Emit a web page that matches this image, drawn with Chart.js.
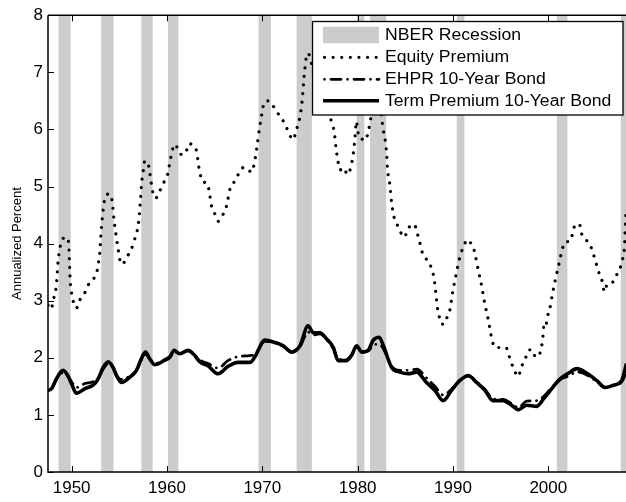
<!DOCTYPE html>
<html><head><meta charset="utf-8">
<script src="https://cdn.jsdelivr.net/npm/chart.js@4/dist/chart.umd.min.js"></script>
<style>html,body{margin:0;padding:0;background:#fff;overflow:hidden}</style>
</head><body>
<canvas id="c" width="626" height="502"></canvas>
<script>
// ---- data ----
const recessionStart = [1948.6, 1953.1, 1957.3, 1960.1, 1969.6, 1973.6, 1979.9, 1981.3, 1990.4, 2000.9, 2007.6];
const recessionEnd   = [1949.9, 1954.4, 1958.5, 1961.2, 1970.9, 1975.2, 1980.7, 1983.0, 1991.2, 2002.0, 2009.5];

const equityYears = [1947.52,1947.85,1948.06,1948.4,1948.58,1948.83,1949.1,1949.5,1949.7,1949.8,1949.87,1949.98,1950.15,1950.44,1950.68,1950.86,1951.38,1951.73,1952.08,1952.5,1952.71,1952.85,1952.96,1953.06,1953.2,1953.38,1953.55,1954.0,1954.25,1954.42,1954.63,1954.88,1955.19,1955.55,1955.93,1956.28,1956.56,1956.98,1957.15,1957.33,1957.54,1957.68,1958.1,1958.34,1958.7,1959.04,1959.32,1959.67,1960.06,1960.37,1960.54,1960.83,1961.14,1961.59,1962.05,1962.29,1962.64,1963.1,1963.34,1963.76,1964.22,1964.43,1964.68,1965.02,1965.37,1965.72,1966.14,1966.35,1966.7,1967.19,1967.47,1968.0,1968.28,1968.87,1969.12,1969.4,1969.74,1970.03,1970.2,1970.69,1971.14,1971.6,1972.08,1972.47,1972.82,1973.24,1973.52,1973.94,1974.18,1974.39,1974.57,1974.71,1974.99,1975.17,1975.6,1976.1,1976.6,1977.0,1977.27,1977.54,1977.72,1977.96,1978.14,1978.56,1978.91,1979.26,1979.54,1979.71,1979.86,1980.12,1980.4,1980.68,1981.03,1981.2,1981.35,1981.7,1982.1,1982.45,1982.68,1982.86,1983.04,1983.14,1983.39,1983.56,1983.84,1984.15,1984.51,1984.86,1985.24,1985.66,1986.08,1986.29,1986.53,1986.71,1987.06,1987.48,1987.76,1988.0,1988.21,1988.39,1988.56,1988.81,1989.09,1989.4,1989.69,1989.96,1990.29,1990.64,1990.85,1991.16,1991.5,1991.86,1992.14,1992.32,1992.66,1993.02,1993.3,1993.65,1993.96,1994.13,1994.41,1994.94,1995.57,1995.81,1996.06,1996.34,1996.86,1997.11,1997.39,1997.67,1998.02,1998.38,1998.62,1998.97,1999.22,1999.39,1999.57,1999.74,1999.91,2000.12,2000.43,2000.78,2001.13,2001.48,2001.76,2002.29,2002.57,2002.81,2003.27,2003.44,2003.86,2004.21,2004.57,2004.85,2005.1,2005.37,2005.62,2005.73,2005.97,2006.15,2006.57,2006.94,2007.19,2007.61,2007.82,2007.99,2008.1,2008.2];
const equityValues = [2.92,2.85,3.0,3.28,3.69,3.97,4.09,4.11,3.97,3.55,3.29,3.14,3.0,2.87,2.91,3.01,3.14,3.27,3.36,3.43,3.55,3.70,3.85,4.13,4.41,4.69,4.83,4.87,4.74,4.45,4.18,3.90,3.64,3.68,3.80,3.91,4.05,4.32,4.60,5.03,5.31,5.45,5.35,5.07,4.80,4.83,4.95,5.07,5.21,5.48,5.62,5.74,5.66,5.55,5.63,5.75,5.73,5.62,5.34,5.08,5.06,4.91,4.65,4.52,4.39,4.48,4.59,4.74,5.01,5.10,5.21,5.33,5.33,5.25,5.37,5.65,6.06,6.34,6.48,6.50,6.41,6.29,6.18,6.06,5.92,5.82,5.96,6.22,6.50,6.93,7.21,7.33,7.28,7.15,6.85,6.60,6.40,6.25,6.13,5.96,5.69,5.42,5.29,5.33,5.21,5.32,5.57,5.83,6.14,5.87,5.84,5.80,5.90,6.03,6.17,6.40,6.50,6.30,5.99,5.85,5.58,5.30,5.01,4.72,4.45,4.33,4.20,4.11,4.23,4.34,4.29,4.16,4.01,3.88,3.75,3.69,3.55,3.41,3.12,2.85,2.72,2.59,2.59,2.72,2.85,3.14,3.43,3.71,3.84,3.97,4.07,4.01,3.94,3.81,3.53,3.25,2.98,2.71,2.43,2.29,2.18,2.18,2.18,2.07,1.95,1.82,1.67,1.81,1.92,2.02,2.14,2.13,2.02,2.02,2.15,2.29,2.59,2.56,2.72,2.83,3.11,3.40,3.65,3.91,4.03,4.04,4.19,4.33,4.34,4.20,4.07,4.03,3.90,3.75,3.61,3.46,3.36,3.24,3.16,3.29,3.32,3.35,3.46,3.61,3.75,3.95,4.40,4.60];

const bondYears = [1947.5,1947.9,1948.4,1949.1,1949.6,1949.98,1950.5,1951.4,1952.25,1952.78,1953.3,1953.83,1954.35,1954.7,1955.2,1956.1,1956.8,1957.3,1957.75,1958.2,1958.7,1959.78,1960.3,1960.75,1961.35,1962.2,1962.75,1963.45,1964.3,1965.37,1966.4,1967.45,1968.7,1969.2,1970.27,1971.3,1972.2,1973.07,1973.95,1974.8,1975.35,1976.05,1976.75,1977.45,1977.95,1978.85,1979.36,1979.9,1980.42,1981.1,1981.64,1982.27,1982.7,1983.57,1984.44,1985.3,1986.2,1987.2,1988.1,1988.97,1989.85,1990.7,1991.6,1992.47,1993.35,1994.2,1995.27,1996.15,1996.85,1997.73,1998.78,1999.5,2000.36,2001.24,2002.11,2003.0,2004.04,2005.1,2005.96,2006.84,2007.7,2008.05,2008.2];
const termPremiumValues = [1.43,1.46,1.63,1.78,1.69,1.55,1.38,1.46,1.52,1.63,1.83,1.93,1.83,1.69,1.57,1.66,1.78,1.98,2.10,1.98,1.88,1.96,2.01,2.13,2.07,2.13,2.07,1.93,1.86,1.72,1.85,1.92,1.92,2.01,2.31,2.27,2.21,2.10,2.21,2.56,2.44,2.44,2.33,2.18,1.95,1.95,2.04,2.21,2.10,2.13,2.31,2.36,2.21,1.83,1.75,1.72,1.75,1.57,1.43,1.25,1.43,1.60,1.69,1.57,1.43,1.25,1.25,1.17,1.09,1.17,1.15,1.28,1.46,1.63,1.73,1.81,1.73,1.60,1.48,1.52,1.60,1.80,1.90];
const ehprValues = [1.43,1.46,1.62,1.74,1.68,1.58,1.48,1.55,1.58,1.64,1.80,1.90,1.82,1.70,1.62,1.68,1.78,1.96,2.06,1.98,1.90,1.97,2.02,2.11,2.07,2.12,2.08,1.96,1.90,1.82,1.95,2.02,2.04,2.06,2.29,2.26,2.20,2.12,2.20,2.45,2.40,2.42,2.32,2.16,1.98,1.97,2.05,2.18,2.10,2.12,2.22,2.24,2.16,1.85,1.78,1.78,1.80,1.65,1.50,1.35,1.45,1.60,1.68,1.58,1.45,1.28,1.27,1.20,1.13,1.24,1.25,1.32,1.48,1.62,1.68,1.75,1.70,1.58,1.48,1.52,1.58,1.70,1.80];

const xTickYears = [1950, 1960, 1970, 1980, 1990, 2000];
const yTickValues = [0, 1, 2, 3, 4, 5, 6, 7, 8];
const legendLabels = ['NBER Recession', 'Equity Premium', 'EHPR 10-Year Bond', 'Term Premium 10-Year Bond'];
const yTitle = 'Annualized Percent';

// ---- build library data ----
const xy = (xs, ys) => xs.map((x, i) => ({x: x, y: ys[i]}));
const recessionData = [];
recessionStart.forEach((s, i) => {
  const e = recessionEnd[i];
  recessionData.push({x: s, y: 0}, {x: s, y: 8}, {x: e, y: 8}, {x: e, y: 0});
});

const FONT = '"Liberation Sans", Arial, Helvetica, sans-serif';
const styles = {
  equity: {w: 3.2, dash: [0.01, 8.6]},
  ehpr: {w: 2.8, dash: [0.01, 6.5, 10, 6.5]},
  term: {w: 3.6, dash: []}
};

const framePlugin = {
  id: 'frame',
  afterDatasetsDraw(chart) {
    const {ctx, chartArea: a, scales} = chart;
    ctx.save();
    ctx.strokeStyle = '#000';
    ctx.lineWidth = 1.5;
    ctx.beginPath();
    ctx.moveTo(a.left, a.top); ctx.lineTo(a.right + 2, a.top);
    ctx.moveTo(a.left, a.top); ctx.lineTo(a.left, a.bottom);
    ctx.lineTo(a.right + 2, a.bottom);
    ctx.stroke();
    ctx.lineWidth = 1;
    ctx.beginPath();
    xTickYears.forEach(v => {
      const px = Math.round(scales.x.getPixelForValue(v)) + 0.5;
      ctx.moveTo(px, a.bottom); ctx.lineTo(px, a.bottom - 6);
      ctx.moveTo(px, a.top); ctx.lineTo(px, a.top + 6);
    });
    yTickValues.forEach(v => {
      const py = Math.round(scales.y.getPixelForValue(v)) + 0.5;
      ctx.moveTo(a.left, py); ctx.lineTo(a.left + 6, py);
    });
    ctx.stroke();

    // legend box
    const L = {x: 312.5, y: 21.5, w: 310.5, h: 93.5};
    ctx.fillStyle = '#fff';
    ctx.fillRect(L.x, L.y, L.w, L.h);
    ctx.strokeStyle = '#000';
    ctx.lineWidth = 1.3;
    ctx.strokeRect(L.x, L.y, L.w, L.h);
    const rows = [35, 57.3, 79.3, 100.7];
    const sx0 = 323, sx1 = 379, tx = 385;
    ctx.fillStyle = '#cccccc';
    ctx.fillRect(sx0, rows[0] - 8.3, sx1 - sx0, 16.6);
    const sty = [null, styles.equity, styles.ehpr, styles.term];
    for (let i = 1; i < 4; i++) {
      ctx.beginPath();
      ctx.setLineDash(sty[i].dash);
      ctx.lineCap = sty[i].dash.length ? 'round' : 'butt';
      ctx.lineWidth = sty[i].w;
      ctx.strokeStyle = '#000';
      ctx.moveTo(sx0 + (i < 3 ? 1.5 : 0), rows[i]);
      ctx.lineTo(sx1, rows[i]);
      ctx.stroke();
    }
    ctx.setLineDash([]);
    ctx.fillStyle = '#000';
    ctx.font = '16px ' + FONT;
    ctx.textBaseline = 'middle';
    ctx.textAlign = 'left';
    legendLabels.forEach((t, i) => {
      ctx.save();
      ctx.translate(tx, rows[i] + 0.5);
      ctx.scale(1.1, 1);
      ctx.fillText(t, 0, 0);
      ctx.restore();
    });
    ctx.restore();
  }
};

new Chart(document.getElementById('c'), {
  type: 'line',
  data: {
    datasets: [
      {label: legendLabels[0], data: recessionData, order: 10, fill: 'origin',
       backgroundColor: '#cccccc', borderColor: 'rgba(0,0,0,0)', borderWidth: 0,
       pointRadius: 0, tension: 0},
      {label: legendLabels[1], data: xy(equityYears, equityValues), order: 0,
       borderColor: '#000', borderWidth: styles.equity.w, borderDash: styles.equity.dash,
       borderCapStyle: 'round', pointRadius: 0, fill: false, cubicInterpolationMode: 'monotone'},
      {label: legendLabels[2], data: xy(bondYears, ehprValues), order: 1,
       borderColor: '#000', borderWidth: styles.ehpr.w, borderDash: styles.ehpr.dash,
       borderCapStyle: 'round', pointRadius: 0, fill: false, cubicInterpolationMode: 'monotone'},
      {label: legendLabels[3], data: xy(bondYears, termPremiumValues), order: 2,
       borderColor: '#000', borderWidth: styles.term.w, borderJoinStyle: 'round',
       pointRadius: 0, fill: false, cubicInterpolationMode: 'monotone'}
    ]
  },
  options: {
    responsive: false,
    animation: false,
    devicePixelRatio: 1,
    layout: {padding: {top: 13, right: 0, left: 0, bottom: 0}},
    plugins: {legend: {display: false}, tooltip: {enabled: false}},
    scales: {
      x: {
        type: 'linear', min: 1947.52, max: 2008.15,
        grid: {display: false, drawTicks: false},
        border: {display: false},
        afterBuildTicks: s => { s.ticks = xTickYears.map(v => ({value: v})); },
        afterFit: s => { s.height = 30; },
        ticks: {color: '#000', font: {family: FONT, size: 17}, padding: 6, maxRotation: 0,
                callback: v => String(v)}
      },
      y: {
        type: 'linear', min: 0, max: 8,
        grid: {display: false, drawTicks: false},
        border: {display: false},
        afterBuildTicks: s => { s.ticks = yTickValues.map(v => ({value: v})); },
        afterFit: s => { s.width = 48; },
        ticks: {color: '#000', font: {family: FONT, size: 17}, padding: 5},
        title: {display: true, text: yTitle, color: '#000',
                font: {family: FONT, size: 13}, padding: {top: 10, bottom: 0}}
      }
    }
  },
  plugins: [framePlugin]
});
</script>
</body></html>
